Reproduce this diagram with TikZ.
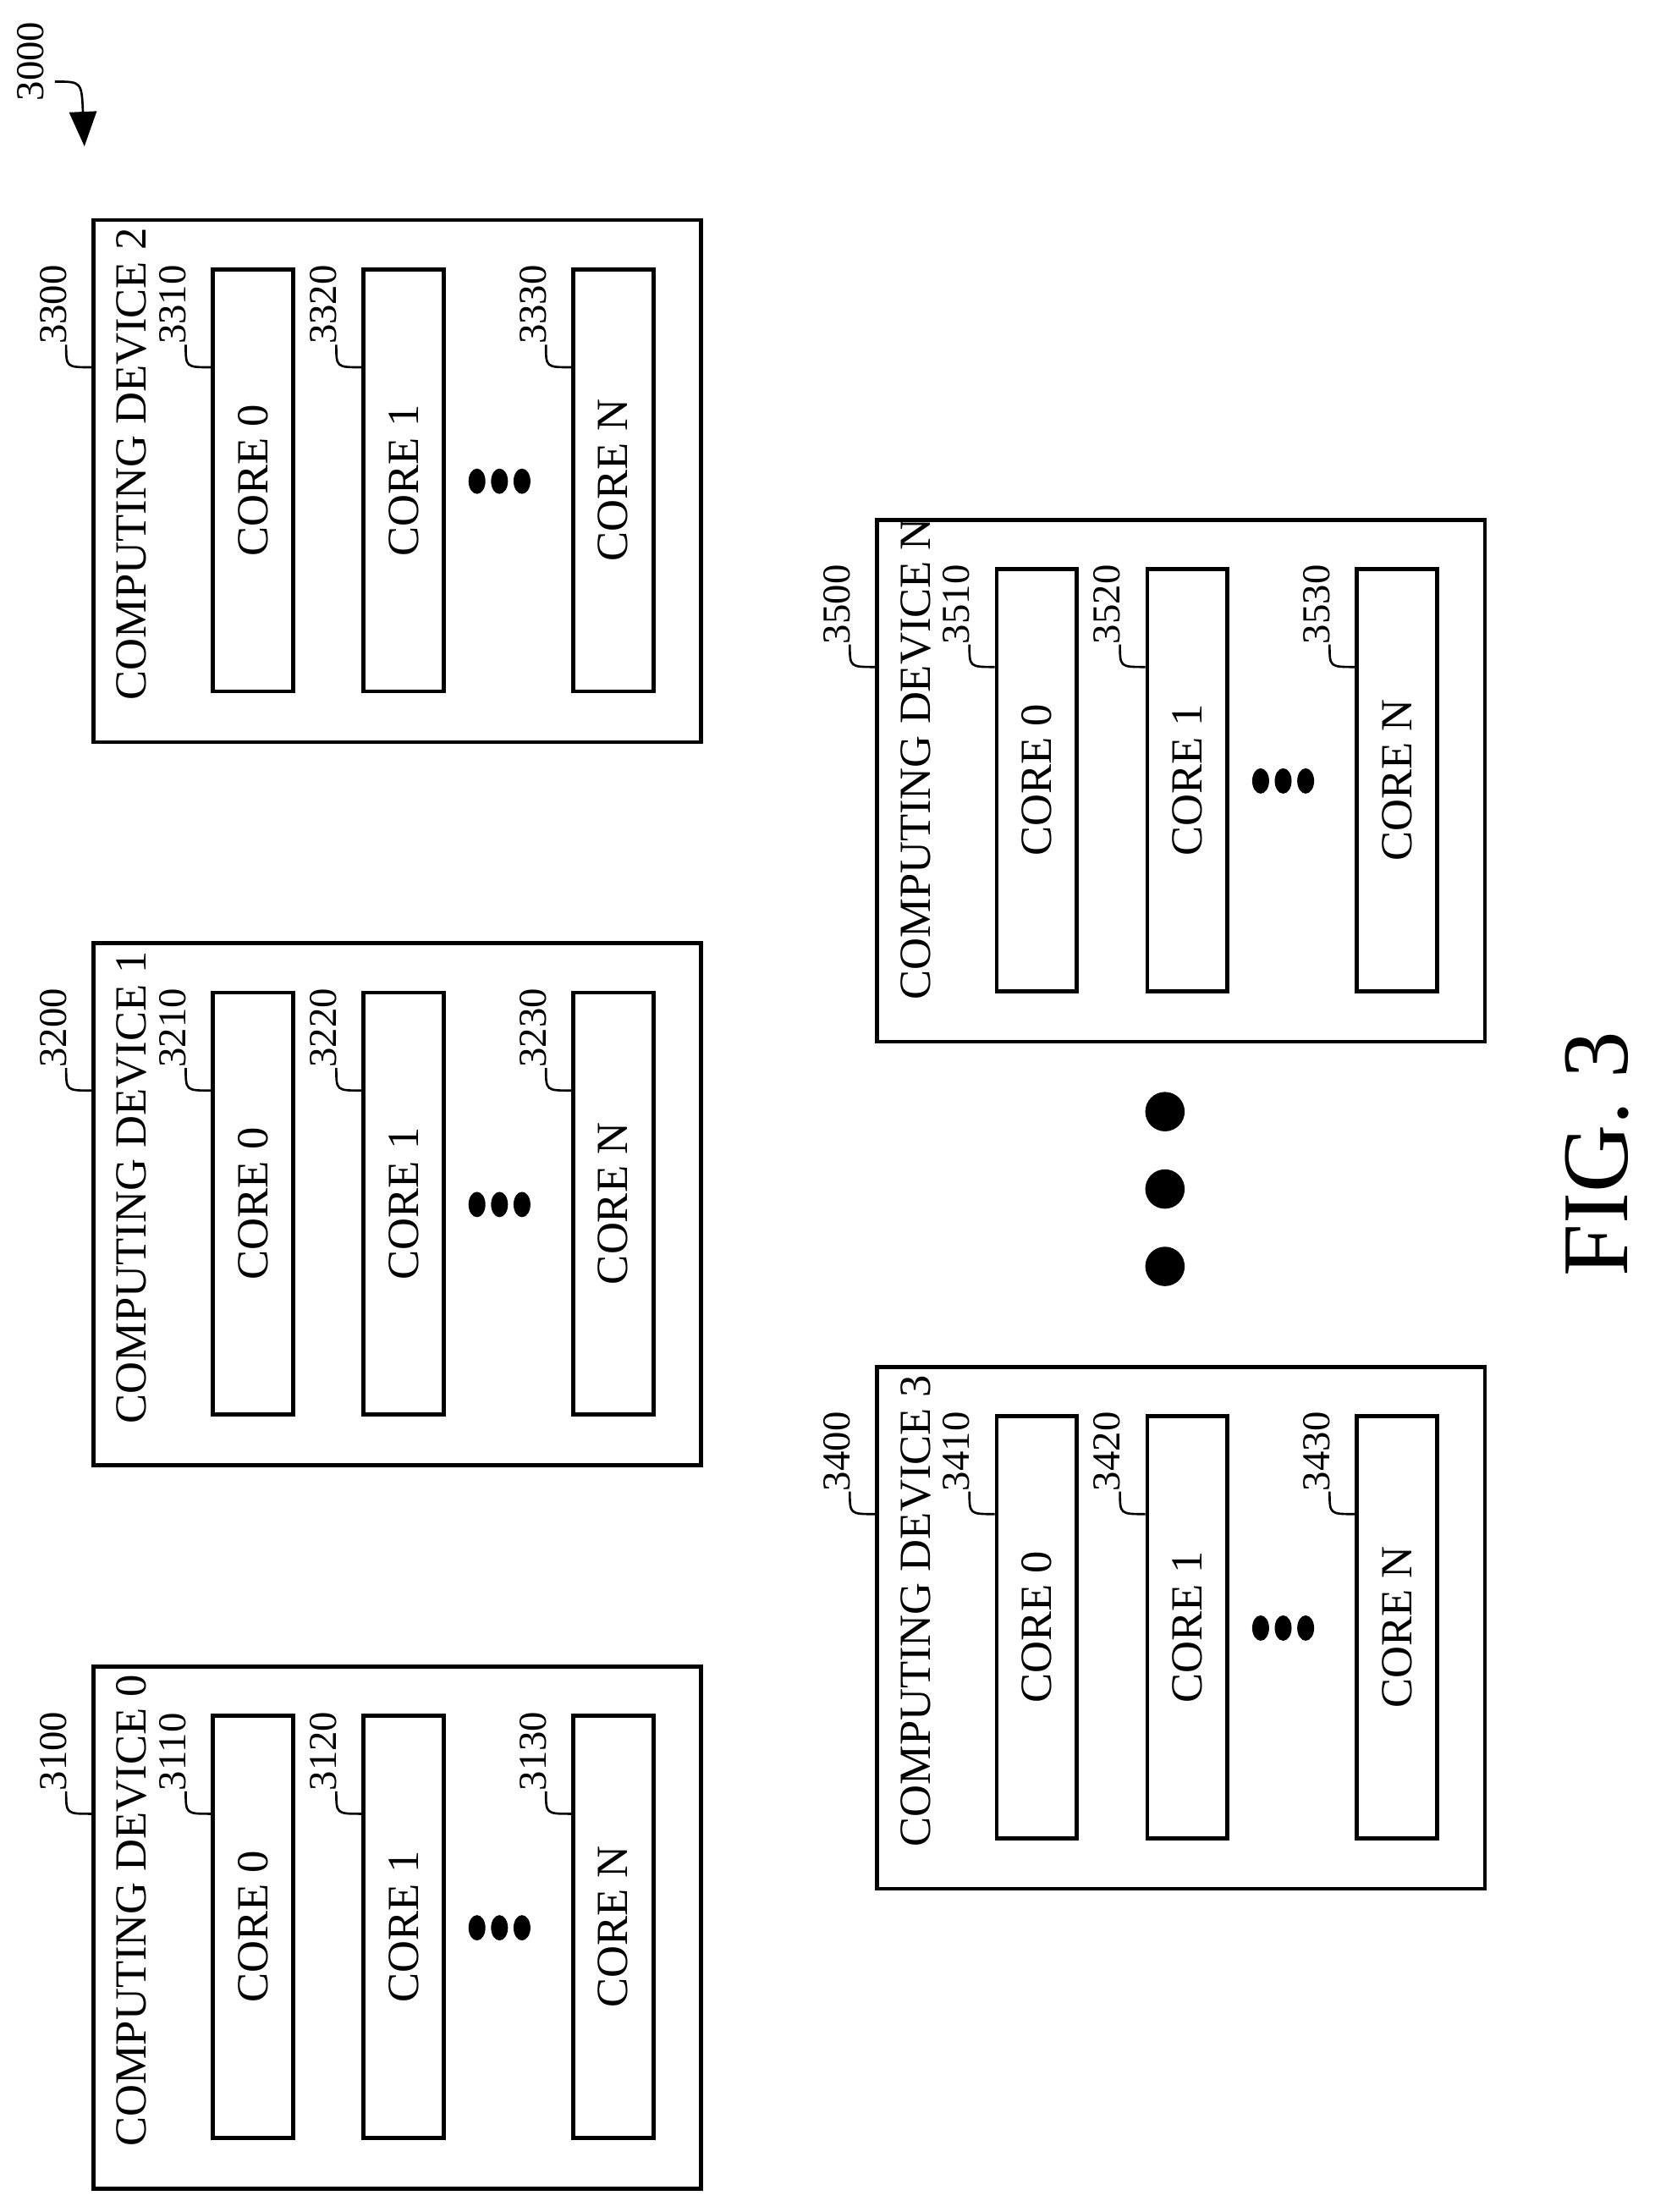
\documentclass[tikz,border=0pt]{standalone}
\usepackage{fontspec}
\setmainfont{Liberation Serif}
\usetikzlibrary{arrows.meta}
\begin{document}
\begin{tikzpicture}[x=0.02cm,y=-0.02cm,
    box_dev/.style ={rectangle, draw=black, line width=1.6pt, minimum width=8.64cm, minimum height=7.42cm, inner sep=0pt},
    box_core/.style ={rectangle, draw=black, line width=1.6pt, minimum width=1.14cm, minimum height=6cm, inner sep=0pt},
    txt_main/.style ={rotate=90, inner sep=0pt, font=\fontsize{18}{20}\selectfont},
    txt_ref/.style ={rotate=90, inner sep=0pt, anchor=base west, font=\fontsize{16}{18}\selectfont},
    leader/.style ={draw, line width=0.9pt}]
    % page size
    \useasboundingbox (0,0) rectangle (1184,1572);
    % one computing device: name, left, top, number, index
    \newcommand{\devblock}[5]{
      \node [box_dev, anchor=north west] (#1) at (#2,#3) {};
      \node [txt_main, anchor=base west] (#1t) at (#2+39,#3+343) {COMPUTING DEVICE #5};
      \node [txt_ref] (#1r) at (#2-18,#3+90) {#4};
      \path[leader] (#1r.base west) .. controls (#2-18,#3+106) .. (#1.west |- 0,#3+106);
      \foreach \cx/\cn/\cl in {85/0/1, 192/1/2, 341/N/3} {
        \node [box_core, anchor=north west] (#1c\cl) at (#2+\cx,#3+35) {};
        \node [txt_main] at (#1c\cl) {CORE \cn};
        \node [txt_ref] (#1c\cl r) at (#2+\cx-18,#3+90) {\the\numexpr#4+10*\cl\relax};
        \path[leader] (#1c\cl r.base west) .. controls (#2+\cx-18,#3+106) .. (#1c\cl.west |- 0,#3+106);
      }
      \foreach \dx in {274,290,306}
        \fill (#2+\dx,#3+187) ellipse [x radius=6, y radius=9];
    }
    \devblock{dev0}{65}{1183}{3100}{0}
    \devblock{dev1}{65}{669}{3200}{1}
    \devblock{dev2}{65}{155}{3300}{2}
    \devblock{dev3}{622}{970}{3400}{3}
    \devblock{devN}{622}{368}{3500}{N}
    % dots between device 3 and device N
    \foreach \dy in {790,845,900}
      \fill (828,\dy) circle [radius=14];
    % figure title and reference
    \node [rotate=90, font=\fontsize{38}{40}\selectfont] (fig) at (1135,820) {FIG. 3};
    \node [txt_ref] (ref) at (31,72) {3000};
    \coordinate (refend) at (60,104);
    \draw [line width=0.9pt, -{Triangle[length=14pt,width=11pt]}] (ref.base west) ++(8,-14) .. controls (58,58) .. (refend);
\end{tikzpicture}
\end{document}
